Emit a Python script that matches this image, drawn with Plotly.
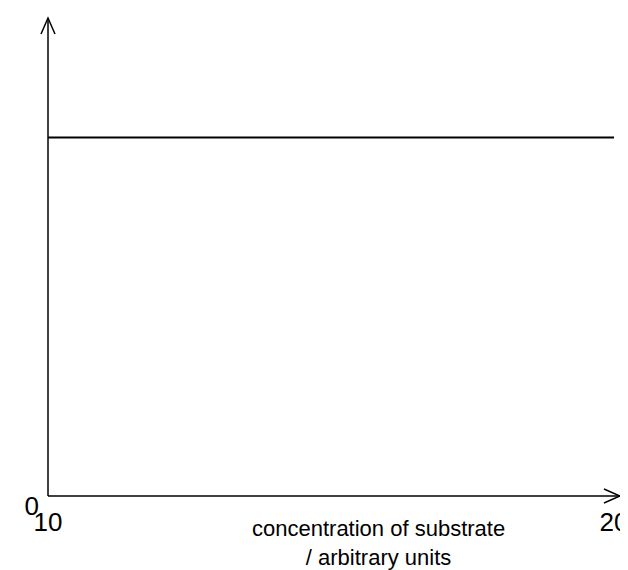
import plotly.graph_objects as go

x_vals = [10, 20]
y_vals = [0.75, 0.75]
x_ticks = [10, 20]
x_ticklabels = ["10", "20"]

W, H = 628, 570
L, R, T, B = 40, 22, 10, 82
pw, ph = W - L - R, H - T - B
xr, yr = (10, 20), (0, 1)

def px(x):
    return (x - L) / pw

def py(y):
    return (H - B - y) / ph

fig = go.Figure()
fig.add_trace(go.Scatter(x=x_vals, y=y_vals, mode="lines",
                         line=dict(color="black", width=2), showlegend=False))

ln = dict(color="black", width=1.5)
ax_x, ax_y = 40, 488
shapes = [
    dict(type="line", x0=px(ax_x), y0=py(ax_y), x1=px(ax_x), y1=py(10), line=ln),
    dict(type="line", x0=px(ax_x), y0=py(ax_y), x1=px(612), y1=py(ax_y), line=ln),
    dict(type="path", path=f"M {px(ax_x-7)},{py(26)} L {px(ax_x)},{py(10)} L {px(ax_x+7)},{py(26)}", line=ln),
    dict(type="path", path=f"M {px(596)},{py(ax_y-7)} L {px(612)},{py(ax_y)} L {px(596)},{py(ax_y+7)}", line=ln),
]
for s in shapes:
    s.update(xref="paper", yref="paper")

fnt = dict(family="Liberation Sans, Arial", color="black")
fig.update_layout(
    width=W, height=H, margin=dict(l=L, r=R, t=T, b=B, autoexpand=False),
    plot_bgcolor="white", paper_bgcolor="white", shapes=shapes,
    xaxis=dict(range=list(xr), showgrid=False, zeroline=False, showline=False,
               tickvals=x_ticks, ticktext=x_ticklabels, ticks="", automargin=False,
               ticklabelstandoff=8, tickfont=dict(size=26, **fnt)),
    yaxis=dict(range=list(yr), showgrid=False, zeroline=False, showline=False,
               tickvals=[0], ticktext=["0"], ticks="", automargin=False,
               ticklabelstandoff=8, ticklabelshift=10, tickfont=dict(size=26, **fnt)),
    annotations=[dict(x=px(370), y=py(506), xref="paper", yref="paper", showarrow=False,
                      yanchor="top", align="center",
                      text="concentration of substrate<br>/ arbitrary units",
                      font=dict(size=22, **fnt))],
)
fig.write_html("out.html")
